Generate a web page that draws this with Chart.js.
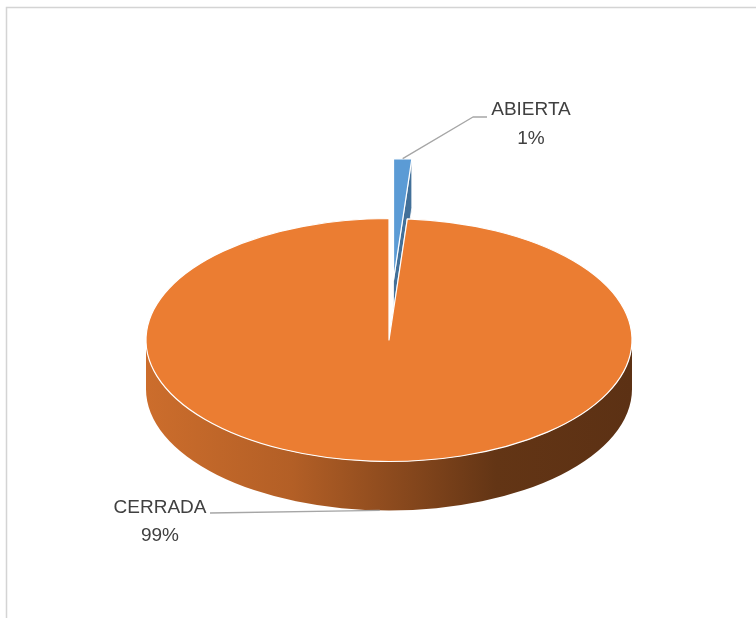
<!DOCTYPE html>
<html>
<head>
<meta charset="utf-8">
<title>Estado</title>
<script src="https://cdn.jsdelivr.net/npm/chart.js@4/dist/chart.umd.min.js"></script>
<style>
  body { margin: 0; background: #fff; }
  canvas { display: block; }
</style>
</head>
<body>
<canvas id="estadoChart" width="756" height="618"></canvas>
<script>
const estados = ["ABIERTA", "CERRADA"];
const cantidades = [3, 247];

const sliceColors = ["#5B9BD5", "#EB7D32"];
const explode = [120, 0];   // radial pull-out, measured on the unsquashed pie

const TILT = 0.5;   // vertical squash of the pie
const DEPTH = 49;   // thickness of the pie

// label centre and leader line bend points
const labelBoxes = [
  { x: 531, y: 110, line: [[473, 117], [487, 117]] },
  { x: 160, y: 507.5, line: [[210, 513]] }
];

function shade(hex, f) {
  const n = parseInt(hex.slice(1), 16);
  const r = Math.round(((n >> 16) & 255) * f);
  const g = Math.round(((n >> 8) & 255) * f);
  const b = Math.round((n & 255) * f);
  return `rgb(${r},${g},${b})`;
}

// parts of [s, e] that lie on the front half of the pie (sin > 0)
function frontRanges(s, e) {
  const out = [];
  for (let k = -1; k <= 2; k++) {
    const a = Math.max(s, 2 * Math.PI * k);
    const b = Math.min(e, 2 * Math.PI * k + Math.PI);
    if (b > a) out.push([a, b]);
  }
  return out;
}

const pie3d = {
  id: "pie3d",
  beforeDraw(chart) {
    const ctx = chart.ctx;
    ctx.save();
    ctx.strokeStyle = "#D4D4D4";
    ctx.lineWidth = 1.5;
    ctx.beginPath();
    ctx.moveTo(6.5, 618);
    ctx.lineTo(6.5, 7.5);
    ctx.lineTo(756, 7.5);
    ctx.stroke();
    ctx.restore();
  },
  beforeDatasetsDraw(chart) {
    const ctx = chart.ctx;
    const arcs = chart.getDatasetMeta(0).data;
    const total = cantidades.reduce((a, b) => a + b, 0);

    const slices = arcs.map((arc, i) => {
      const p = arc.getProps(["x", "y", "startAngle", "endAngle", "outerRadius"], true);
      const mid = (p.startAngle + p.endAngle) / 2;
      return {
        i, s: p.startAngle, e: p.endAngle, r: p.outerRadius, mid,
        cx: p.x + explode[i] * Math.cos(mid),
        cy: p.y + TILT * explode[i] * Math.sin(mid)
      };
    });

    // paint from the back of the pie to the front
    const order = slices.slice().sort((a, b) => Math.sin(a.mid) - Math.sin(b.mid));

    ctx.save();
    ctx.lineJoin = "round";
    order.forEach(sl => {
      const { cx, cy, r, s, e } = sl;
      const ry = r * TILT;
      const col = sliceColors[sl.i];

      // the two cut faces
      [s, e].forEach((t, k) => {
        const px = cx + r * Math.cos(t);
        const py = cy + ry * Math.sin(t);
        ctx.beginPath();
        ctx.moveTo(cx, cy);
        ctx.lineTo(px, py);
        ctx.lineTo(px, py + DEPTH);
        ctx.lineTo(cx, cy + DEPTH);
        ctx.closePath();
        ctx.fillStyle = shade(col, k ? 0.72 : 0.62);
        ctx.fill();
        ctx.strokeStyle = "rgba(255,255,255,0.8)";
        ctx.lineWidth = 1;
        ctx.stroke();
      });

      // outer wall, darker toward the right
      const grad = ctx.createLinearGradient(cx - r, 0, cx + r, 0);
      grad.addColorStop(0, shade(col, 0.87));
      grad.addColorStop(0.3, shade(col, 0.76));
      grad.addColorStop(0.55, shade(col, 0.56));
      grad.addColorStop(0.72, shade(col, 0.42));
      grad.addColorStop(1, shade(col, 0.39));
      frontRanges(s, e).forEach(([a, b]) => {
        ctx.beginPath();
        ctx.ellipse(cx, cy, r, ry, 0, a, b);
        ctx.ellipse(cx, cy + DEPTH, r, ry, 0, b, a, true);
        ctx.closePath();
        ctx.fillStyle = grad;
        ctx.fill();
      });

      // top face
      ctx.beginPath();
      ctx.moveTo(cx, cy);
      ctx.ellipse(cx, cy, r, ry, 0, s, e);
      ctx.closePath();
      ctx.fillStyle = col;
      ctx.fill();
      ctx.strokeStyle = "#FFFFFF";
      ctx.lineWidth = 1.2;
      ctx.stroke();
    });

    // leader lines and labels
    ctx.font = "19px 'Liberation Sans', Arial, sans-serif";
    ctx.textAlign = "center";
    ctx.textBaseline = "middle";
    slices.forEach(sl => {
      const box = labelBoxes[sl.i];
      const back = Math.sin(sl.mid) < 0;
      const ax = sl.cx + sl.r * Math.cos(sl.mid);
      const ay = sl.cy + sl.r * TILT * Math.sin(sl.mid) + (back ? 0 : DEPTH);
      ctx.beginPath();
      ctx.moveTo(ax, ay);
      box.line.forEach(pt => ctx.lineTo(pt[0], pt[1]));
      ctx.strokeStyle = "#A6A6A6";
      ctx.lineWidth = 1.4;
      ctx.stroke();

      const pct = Math.round(cantidades[sl.i] / total * 100) + "%";
      ctx.fillStyle = "#404040";
      ctx.fillText(estados[sl.i], box.x, box.y);
      ctx.fillText(pct, box.x, box.y + 28.5);
    });
    ctx.restore();

    return false;
  }
};

const ctx = document.getElementById("estadoChart").getContext("2d");
new Chart(ctx, {
  type: "pie",
  data: {
    labels: estados,
    datasets: [{
      data: cantidades,
      backgroundColor: sliceColors,
      borderWidth: 0
    }]
  },
  options: {
    responsive: false,
    animation: false,
    events: [],
    radius: 243,
    layout: { padding: { left: 22, top: 62 } },
    plugins: {
      legend: { display: false },
      tooltip: { enabled: false }
    }
  },
  plugins: [pie3d]
});
</script>
</body>
</html>
